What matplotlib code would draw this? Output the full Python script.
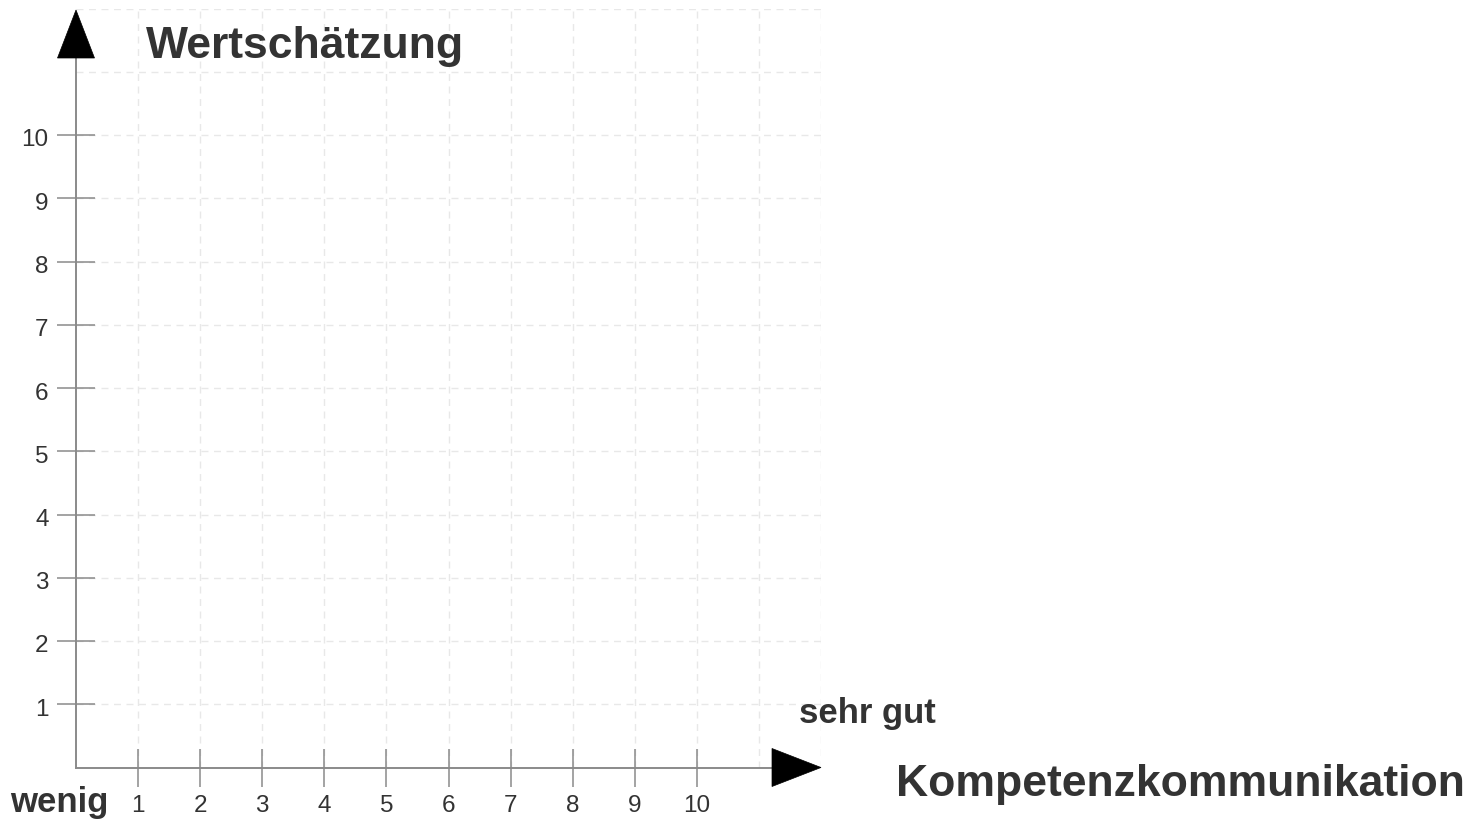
import matplotlib
matplotlib.use("Agg")
import matplotlib.pyplot as plt
import matplotlib.transforms as mtransforms
from matplotlib.patches import Polygon

# Data / labels
x_ticks = [1, 2, 3, 4, 5, 6, 7, 8, 9, 10]
y_ticks = [1, 2, 3, 4, 5, 6, 7, 8, 9, 10]
grid_lines = [1, 2, 3, 4, 5, 6, 7, 8, 9, 10, 11, 12]
x_title = "Kompetenzkommunikation"
y_title = "Wertschätzung"
x_low_label = "wenig"
x_high_label = "sehr gut"

W, H = 1467, 823
plt.rcParams['font.family'] = ['Liberation Sans', 'DejaVu Sans']
fig = plt.figure(figsize=(W / 100, H / 100), dpi=100)
fig.patch.set_facecolor('white')

x0px, x12px = 76, 821
y0px, y12px = 767.5, 8.5
ax = fig.add_axes([x0px / W, 1 - y0px / H, (x12px - x0px) / W, (y0px - y12px) / H])
ax.set_xlim(0, 12)
ax.set_ylim(0, 12)
ax.set_facecolor('none')

axis_col = '#8a8a8a'
text_col = '#333333'

# grid
for g in grid_lines:
    ax.axvline(g, color='#e8e8e8', lw=1.0, ls=(0, (5, 4)), zorder=0)
    ax.axhline(g, color='#e8e8e8', lw=1.0, ls=(0, (5, 4)), zorder=0)

for s in ['top', 'right']:
    ax.spines[s].set_visible(False)
for s in ['left', 'bottom']:
    ax.spines[s].set_color(axis_col)
    ax.spines[s].set_linewidth(1.4)
ax.spines['left'].set_bounds(0, 11.5)
ax.spines['bottom'].set_bounds(0, 11.5)

ax.set_xticks(x_ticks)
ax.set_yticks(y_ticks)
ax.set_xticklabels([str(v) for v in x_ticks])
ax.set_yticklabels([str(v) for v in y_ticks])
ax.tick_params(axis='both', direction='inout', length=27.4, width=1.1,
               color=axis_col, labelsize=17.5, labelcolor=text_col)
ax.tick_params(axis='x', pad=6)
ax.tick_params(axis='y', pad=6)

shift = mtransforms.ScaledTranslation(0, -3 / 100, fig.dpi_scale_trans)
for lbl in ax.get_yticklabels():
    lbl.set_transform(lbl.get_transform() + shift)

# arrowheads (sizes in pixels converted to data units)
px_x = 12 / (x12px - x0px)
px_y = 12 / (y0px - y12px)
xa = Polygon([(12, 0), (12 - 49 * px_x, 19 * px_y), (12 - 49 * px_x, -19 * px_y)],
             closed=True, facecolor='black', edgecolor='black', lw=0.5,
             clip_on=False, zorder=5)
ya_tip = (y0px - 10) * px_y
ya = Polygon([(0, ya_tip), (-18.5 * px_x, ya_tip - 48 * px_y), (18.5 * px_x, ya_tip - 48 * px_y)],
             closed=True, facecolor='black', edgecolor='black', lw=0.5,
             clip_on=False, zorder=5)
ax.add_patch(xa)
ax.add_patch(ya)

# titles and labels
def ftext(x, y, s, size, **kw):
    fig.text(x / W, 1 - y / H, s, fontsize=size, fontweight='bold',
             color=text_col, va='baseline', ha='left', **kw)

ftext(146, 58, y_title, 32)
ftext(896, 796, x_title, 32)
ftext(799, 723, x_high_label, 25)
ftext(10, 812, x_low_label, 25)

fig.savefig("out.png", dpi=100, facecolor='white')
